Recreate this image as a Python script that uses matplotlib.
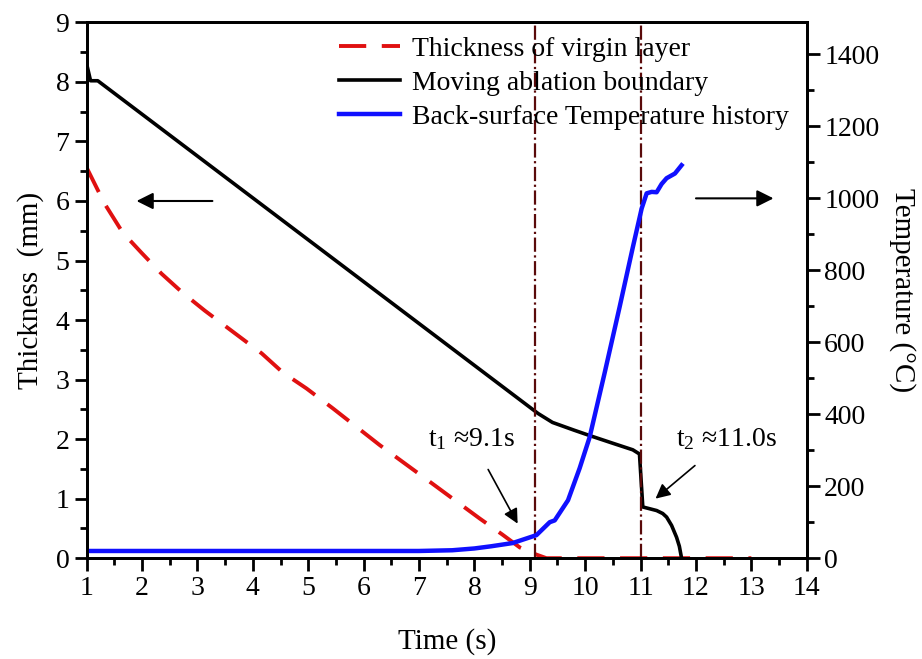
import matplotlib.pyplot as plt
from matplotlib.ticker import MultipleLocator

plt.rcParams['font.family'] = ['Liberation Serif', 'DejaVu Serif']
plt.rcParams['mathtext.fontset'] = 'custom'
plt.rcParams['mathtext.rm'] = 'Liberation Serif'

# espesor de la capa virgen (mm)
t_virgen = [1.0, 1.32, 1.65, 1.99, 2.35, 2.73, 3.13, 3.53, 4.16, 4.54, 4.97, 5.44,
            6.29, 7.2, 8.09, 8.5, 8.82, 9.12, 9.3, 13.0]
e_virgen = [6.56, 5.96, 5.47, 5.13, 4.78, 4.46, 4.16, 3.88, 3.44, 3.12, 2.85, 2.52,
            1.9, 1.28, 0.67, 0.4, 0.18, 0.06, 0.0, 0.0]

# frontera de ablacion (mm)
t_frontera = [1.0, 1.07, 1.2, 9.15, 9.41, 9.8, 10.08, 10.5, 10.86, 10.98, 11.04,
              11.29, 11.4, 11.47, 11.56, 11.65, 11.7, 11.74]
e_frontera = [8.3, 8.02, 8.02, 2.43, 2.28, 2.15, 2.06, 1.93, 1.82, 1.75, 0.86,
              0.8, 0.75, 0.69, 0.55, 0.35, 0.2, 0.0]

# temperatura de la cara posterior (C)
t_temp = [1.0, 7.0, 7.6, 8.0, 8.3, 8.69, 9.12, 9.36, 9.45, 9.69, 9.9, 10.08, 10.35,
          10.62, 10.86, 11.02, 11.11, 11.2, 11.29, 11.38, 11.47, 11.62, 11.74]
temp = [20, 20, 22, 27, 33, 42, 64, 100, 105, 161, 250, 336, 514,
        697, 864, 972, 1014, 1018, 1017, 1040, 1056, 1069, 1092]

t1, t2 = 9.1, 11.0

fig = plt.figure(figsize=(9.22, 6.59), dpi=100)
ax = fig.add_axes([0.094, 0.153, 0.781, 0.813])
ax2 = ax.twinx()

l1, = ax.plot(t_virgen, e_virgen, color='#e01010', ls=(0, (7, 4)), lw=2.8,
              label='Thickness of virgin layer')
l2, = ax.plot(t_frontera, e_frontera, color='black', lw=2.6,
              label='Moving ablation boundary')
l3, = ax2.plot(t_temp, temp, color='#1010ff', lw=3.2,
               label='Back-surface Temperature history')

for tv in (t1, t2):
    ax.axvline(tv, color='#5a0a0a', ls='-.', lw=1.6)

ax.set_xlim(1, 14)
ax.set_ylim(0, 9)
ax2.set_ylim(0, 1489)
ax.xaxis.set_major_locator(MultipleLocator(1))
ax.xaxis.set_minor_locator(MultipleLocator(0.5))
ax.yaxis.set_major_locator(MultipleLocator(1))
ax.yaxis.set_minor_locator(MultipleLocator(0.5))
ax2.yaxis.set_major_locator(MultipleLocator(200))
ax2.yaxis.set_minor_locator(MultipleLocator(100))

for a in (ax, ax2):
    a.tick_params(which='major', direction='out', length=9, width=2, labelsize=20)
    a.tick_params(which='minor', direction='out', length=5, width=2)
    for s in a.spines.values():
        s.set_linewidth(2)

ax.set_xlabel('Time (s)', fontsize=21, labelpad=20)
ax.set_ylabel('Thickness  (mm)', fontsize=21, labelpad=8)
ax2.set_ylabel('Temperature (\u00b0C)', fontsize=21, rotation=270, labelpad=26)

ax.legend(handles=[l1, l2, l3], loc='upper left', bbox_to_anchor=(0.32, 1.015),
          frameon=False, fontsize=20, handlelength=2.2, handletextpad=0.4,
          labelspacing=0.3, borderpad=0.3)

# flechas de ejes
ax.annotate('', xy=(1.85, 6.0), xytext=(3.32, 6.0),
            arrowprops=dict(arrowstyle='-|>', color='black', lw=1.5,
                            mutation_scale=25))
ax2.annotate('', xy=(13.45, 1000), xytext=(11.95, 1000),
             arrowprops=dict(arrowstyle='-|>', color='black', lw=1.5,
                             mutation_scale=25))

# marcas de tiempo
ax.annotate(r'$\mathregular{t_1}$ ≈9.1s', xy=(8.78, 0.58), xytext=(7.95, 2.0),
            fontsize=20, ha='center', va='center',
            arrowprops=dict(arrowstyle='-|>', color='black', lw=1.2,
                            mutation_scale=22, shrinkA=12, shrinkB=0))
ax.annotate(r'$\mathregular{t_2}$ ≈11.0s', xy=(11.27, 1.0), xytext=(12.55, 2.0),
            fontsize=20, ha='center', va='center',
            arrowprops=dict(arrowstyle='-|>', color='black', lw=1.2,
                            mutation_scale=22, shrinkA=12, shrinkB=0))

fig.savefig('out.png', dpi=100)
